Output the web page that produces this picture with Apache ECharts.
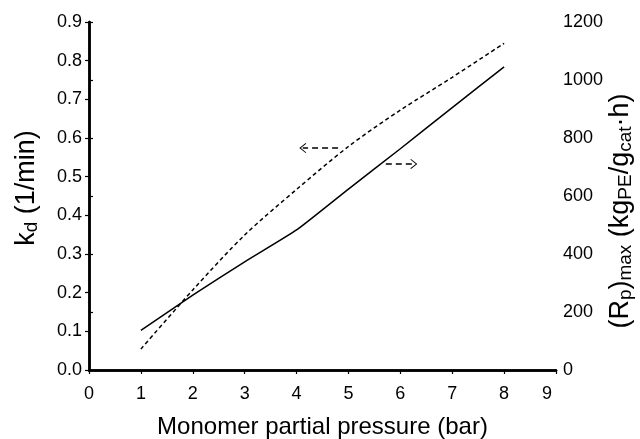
<!DOCTYPE html>
<html>
<head>
<meta charset="utf-8">
<script src="https://cdn.jsdelivr.net/npm/echarts@6/dist/echarts.min.js"></script>
<style>html,body{margin:0;padding:0;background:#fff}#c{width:640px;height:439px}</style>
</head>
<body>
<div id="c"></div>
<script>
var pressure = [1, 2, 3, 4, 5, 6, 7, 8];
var kdValues = [0.054, 0.207, 0.349, 0.467, 0.578, 0.672, 0.757, 0.845];
var rpMaxValues = [137, 258, 373, 483, 624, 763, 905, 1045];
var xTicks = [0, 1, 2, 3, 4, 5, 6, 7, 8, 9];
var leftArrow = [[4.8, 0.574], [4.12, 0.574]];
var rightArrow = [[5.72, 0.533], [6.26, 0.533]];

var FONT = '"Liberation Sans", Arial, sans-serif';
var chev = 'path://M10,0 L20,10 L18.8,11 L10,2.4 L1.2,11 L0,10 Z';
var chart = echarts.init(document.getElementById('c'), null, {renderer: 'canvas'});
var axisLine = {show: true, lineStyle: {color: '#000', width: 2.5}};
var tick = {show: true, inside: false, length: 4, lineStyle: {color: '#000', width: 1.2}};
var lbl = {color: '#000', fontFamily: FONT, fontSize: 18};
var nameRich = {
  m: {color: '#000', fontFamily: FONT, fontSize: 27},
  s: {color: '#000', fontFamily: FONT, fontSize: 19, padding: [10, 0, 0, 0]}
};
chart.setOption({
  animation: false,
  grid: {left: 89, right: 84, top: 22, bottom: 69, containLabel: false, outerBoundsMode: 'none'},
  xAxis: [{
    type: 'value', min: 0, max: 9, interval: 1,
    axisLine: axisLine, axisTick: tick,
    axisLabel: Object.assign({
      margin: 15,
      formatter: function (v) { return v === xTicks[xTicks.length - 1] ? '{e|' + v + '}' : String(v); },
      rich: {e: {color: '#000', fontFamily: FONT, fontSize: 18, padding: [0, 18, 0, 0]}}
    }, lbl),
    splitLine: {show: false},
    name: 'Monomer partial pressure (bar)', nameLocation: 'middle', nameGap: 45, nameMoveOverlap: false,
    nameTextStyle: {color: '#000', fontFamily: FONT, fontSize: 24}
  }, {
    type: 'value', min: 0, max: 9, position: 'top',
    axisLine: axisLine, axisTick: {show: false}, axisLabel: {show: false}, splitLine: {show: false}
  }],
  yAxis: [{
    type: 'value', min: 0, max: 0.9, interval: 0.1, position: 'left',
    axisLine: axisLine, axisTick: tick,
    axisLabel: Object.assign({margin: 7, formatter: function (v) { return v.toFixed(1); }}, lbl),
    splitLine: {show: false},
    name: '{m|k}{s|d}{m| (1/min)}', nameLocation: 'middle', nameGap: 48, nameRotate: 90, nameMoveOverlap: false,
    nameTextStyle: {rich: nameRich, padding: [0, 0, 0, 16]}
  }, {
    type: 'value', min: 0, max: 1200, interval: 200, position: 'right',
    axisLine: axisLine, axisTick: tick,
    axisLabel: Object.assign({margin: 7, formatter: function (v) { return String(v); }}, lbl),
    splitLine: {show: false},
    name: '{m|(R}{s|p}{m|)}{s|max}{m| (kg}{s|PE}{m|/g}{s|cat}{m|·h)}', nameLocation: 'middle', nameGap: 50, nameRotate: 90, nameMoveOverlap: false,
    nameTextStyle: {rich: nameRich, padding: [0, 30, 0, 0]}
  }],
  series: [{
    type: 'line', yAxisIndex: 0, smooth: 0.3, showSymbol: false,
    data: pressure.map(function (p, i) { return [p, kdValues[i]]; }),
    lineStyle: {color: '#000', width: 1.5, type: [4, 3]},
    markLine: {
      silent: true, symbol: ['none', chev], symbolSize: [10, 7],
      label: {show: false},
      lineStyle: {color: '#000', width: 1.5, type: [6, 4]},
      data: [
        [{coord: leftArrow[0]}, {coord: leftArrow[1]}],
        [{coord: rightArrow[0]}, {coord: rightArrow[1]}]
      ]
    }
  }, {
    type: 'line', yAxisIndex: 1, smooth: 0.15, showSymbol: false,
    data: pressure.map(function (p, i) { return [p, rpMaxValues[i]]; }),
    lineStyle: {color: '#000', width: 1.5}
  }]
});
</script>
</body>
</html>
